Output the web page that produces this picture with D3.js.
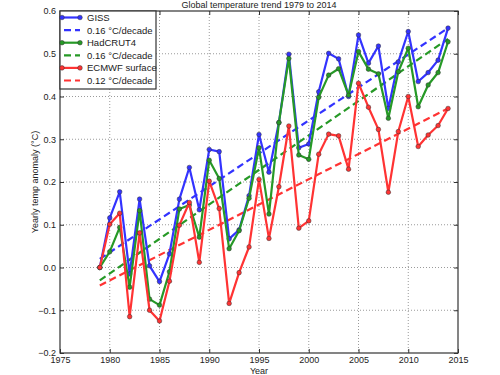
<!DOCTYPE html>
<html lang="en">
<head>
    <meta charset="UTF-8">
    <title>Global temperature trend 1979 to 2014</title>
    <script src="https://d3js.org/d3.v7.min.js"></script>
    <style>
        body { margin: 0; background: #fff; }
        text { font-family: "Liberation Sans", Arial, sans-serif; fill: #222; }
    </style>
</head>
<body>

<div id="chart"></div>

<script>
    // yearly anomalies relative to 1979
    var years = d3.range(1979, 2015);
    var giss = [0, 0.116, 0.177, -0.015, 0.160, 0.004, -0.033, 0.032, 0.160, 0.234,
        0.135, 0.276, 0.271, 0.067, 0.088, 0.168, 0.311, 0.223, 0.339, 0.499,
        0.280, 0.289, 0.411, 0.501, 0.488, 0.400, 0.544, 0.478, 0.518, 0.372,
        0.481, 0.552, 0.435, 0.456, 0.485, 0.560];
    var hadcrut = [0, 0.037, 0.094, -0.046, 0.133, -0.074, -0.088, -0.010, 0.137, 0.146,
        0.071, 0.251, 0.208, 0.044, 0.086, 0.162, 0.280, 0.125, 0.339, 0.489,
        0.263, 0.253, 0.398, 0.450, 0.465, 0.403, 0.505, 0.464, 0.453, 0.349,
        0.458, 0.513, 0.376, 0.427, 0.456, 0.528];
    var ecmwf = [0, 0.101, 0.127, -0.115, 0.081, -0.100, -0.125, -0.032, 0.099, 0.152,
        0.012, 0.202, 0.138, -0.084, -0.012, 0.048, 0.206, 0.068, 0.189, 0.331,
        0.092, 0.109, 0.265, 0.312, 0.308, 0.230, 0.431, 0.375, 0.323, 0.176,
        0.318, 0.400, 0.283, 0.310, 0.332, 0.372];

    // trend line end points (1979, 2014)
    var trendYears = [1979, 2014];
    var gissTrend = [0.020, 0.560];
    var hadcrutTrend = [-0.030, 0.535];
    var ecmwfTrend = [-0.042, 0.372];

    var xTicks = [1975, 1980, 1985, 1990, 1995, 2000, 2005, 2010, 2015];
    var yTicks = [-0.2, -0.1, 0.0, 0.1, 0.2, 0.3, 0.4, 0.5, 0.6];

    var series = [
        {name: "GISS", values: giss, trend: gissTrend, label: "0.16 °C/decade", color: "#3333ff"},
        {name: "HadCRUT4", values: hadcrut, trend: hadcrutTrend, label: "0.16 °C/decade", color: "#269926"},
        {name: "ECMWF surface", values: ecmwf, trend: ecmwfTrend, label: "0.12 °C/decade", color: "#ff3333"}
    ];

    var margin = {top: 11, right: 42, bottom: 22, left: 60},
        width = 500 - margin.left - margin.right,
        height = 375 - margin.top - margin.bottom;

    var svg = d3.select("#chart")
        .append("svg")
        .attr("width", 500)
        .attr("height", 375)
        .append("g")
        .attr("transform", "translate(" + margin.left + "," + margin.top + ")");

    var x = d3.scaleLinear().domain([1975, 2015]).range([0, width]);
    var y = d3.scaleLinear().domain([-0.2, 0.6]).range([height, 0]);

    // grid
    svg.append("g")
        .selectAll("line")
        .data(xTicks.slice(1, -1))
        .enter().append("line")
        .attr("x1", function(d) { return x(d); })
        .attr("x2", function(d) { return x(d); })
        .attr("y1", 0).attr("y2", height)
        .attr("stroke", "#9a9a9a").attr("stroke-width", 1)
        .attr("stroke-dasharray", "1,2");
    svg.append("g")
        .selectAll("line")
        .data(yTicks.slice(1, -1))
        .enter().append("line")
        .attr("y1", function(d) { return y(d); })
        .attr("y2", function(d) { return y(d); })
        .attr("x1", 0).attr("x2", width)
        .attr("stroke", "#9a9a9a").attr("stroke-width", 1)
        .attr("stroke-dasharray", "1,2");

    // axes
    var fmtY = function(d) { return d3.format(".1f")(d).replace("-", "\u2212"); };
    svg.append("g")
        .attr("transform", "translate(0," + height + ")")
        .call(d3.axisBottom(x).tickValues(xTicks).tickFormat(d3.format("d")).tickSizeInner(-4).tickSizeOuter(0).tickPadding(4));
    svg.append("g")
        .call(d3.axisLeft(y).tickValues(yTicks).tickFormat(fmtY).tickSizeInner(-4).tickSizeOuter(0).tickPadding(4));
    svg.append("g")
        .attr("transform", "translate(" + width + ",0)")
        .call(d3.axisRight(y).tickValues(yTicks).tickFormat("").tickSizeInner(-4).tickSizeOuter(0));
    svg.append("g")
        .call(d3.axisTop(x).tickValues(xTicks).tickFormat("").tickSizeInner(-4).tickSizeOuter(0));
    svg.selectAll(".domain").remove();
    svg.selectAll(".tick line").attr("stroke", "#333");
    svg.selectAll(".tick text").style("font-size", "9px").attr("fill", "#222");

    var line = d3.line()
        .x(function(d) { return x(d[0]); })
        .y(function(d) { return y(d[1]); });

    // trend lines
    series.forEach(function(s) {
        svg.append("path")
            .datum(trendYears.map(function(yr, i) { return [yr, s.trend[i]]; }))
            .attr("d", line)
            .attr("fill", "none")
            .attr("stroke", s.color)
            .attr("stroke-width", 2.2)
            .attr("stroke-dasharray", "7,4");
    });

    // data lines with markers
    series.forEach(function(s) {
        var pts = years.map(function(yr, i) { return [yr, s.values[i]]; });
        svg.append("path")
            .datum(pts)
            .attr("d", line)
            .attr("fill", "none")
            .attr("stroke", s.color)
            .attr("stroke-width", 2.2)
            .attr("stroke-linejoin", "round");
        svg.append("g")
            .selectAll("circle")
            .data(pts)
            .enter().append("circle")
            .attr("cx", function(d) { return x(d[0]); })
            .attr("cy", function(d) { return y(d[1]); })
            .attr("r", 2.3)
            .attr("fill", s.color)
            .attr("stroke", "#333")
            .attr("stroke-width", 0.5);
    });

    // frame
    svg.append("rect")
        .attr("width", width).attr("height", height)
        .attr("fill", "none").attr("stroke", "#333").attr("stroke-width", 1.2);

    // legend
    var leg = svg.append("g");
    leg.append("rect")
        .attr("x", 0).attr("y", 0).attr("width", 96).attr("height", 78)
        .attr("fill", "#fff").attr("stroke", "#333").attr("stroke-width", 1.2);
    series.forEach(function(s, i) {
        var y0 = 6.5 + i * 25.2, y1 = y0 + 12.6;
        leg.append("line")
            .attr("x1", 2).attr("x2", 20).attr("y1", y0).attr("y2", y0)
            .attr("stroke", s.color).attr("stroke-width", 2.2);
        [2, 20].forEach(function(px) {
            leg.append("circle").attr("cx", px).attr("cy", y0).attr("r", 2.3)
                .attr("fill", s.color).attr("stroke", "#333").attr("stroke-width", 0.5);
        });
        leg.append("text").attr("x", 27).attr("y", y0 + 3.4)
            .style("font-size", "9.5px").text(s.name);
        leg.append("line")
            .attr("x1", 4).attr("x2", 20).attr("y1", y1).attr("y2", y1)
            .attr("stroke", s.color).attr("stroke-width", 2.2)
            .attr("stroke-dasharray", "7,4");
        leg.append("text").attr("x", 27).attr("y", y1 + 3.4)
            .style("font-size", "9.5px").text(s.label);
    });

    // titles
    svg.append("text")
        .attr("x", width / 2).attr("y", -3)
        .attr("text-anchor", "middle")
        .style("font-size", "9px")
        .text("Global temperature trend 1979 to 2014");
    svg.append("text")
        .attr("x", width / 2).attr("y", height + 21)
        .attr("text-anchor", "middle")
        .style("font-size", "9px")
        .text("Year");
    svg.append("text")
        .attr("transform", "translate(-22," + (height / 2) + ") rotate(-90)")
        .attr("text-anchor", "middle")
        .style("font-size", "9px")
        .text("Yearly temp anomaly (°C)");
</script>

</body>
</html>
